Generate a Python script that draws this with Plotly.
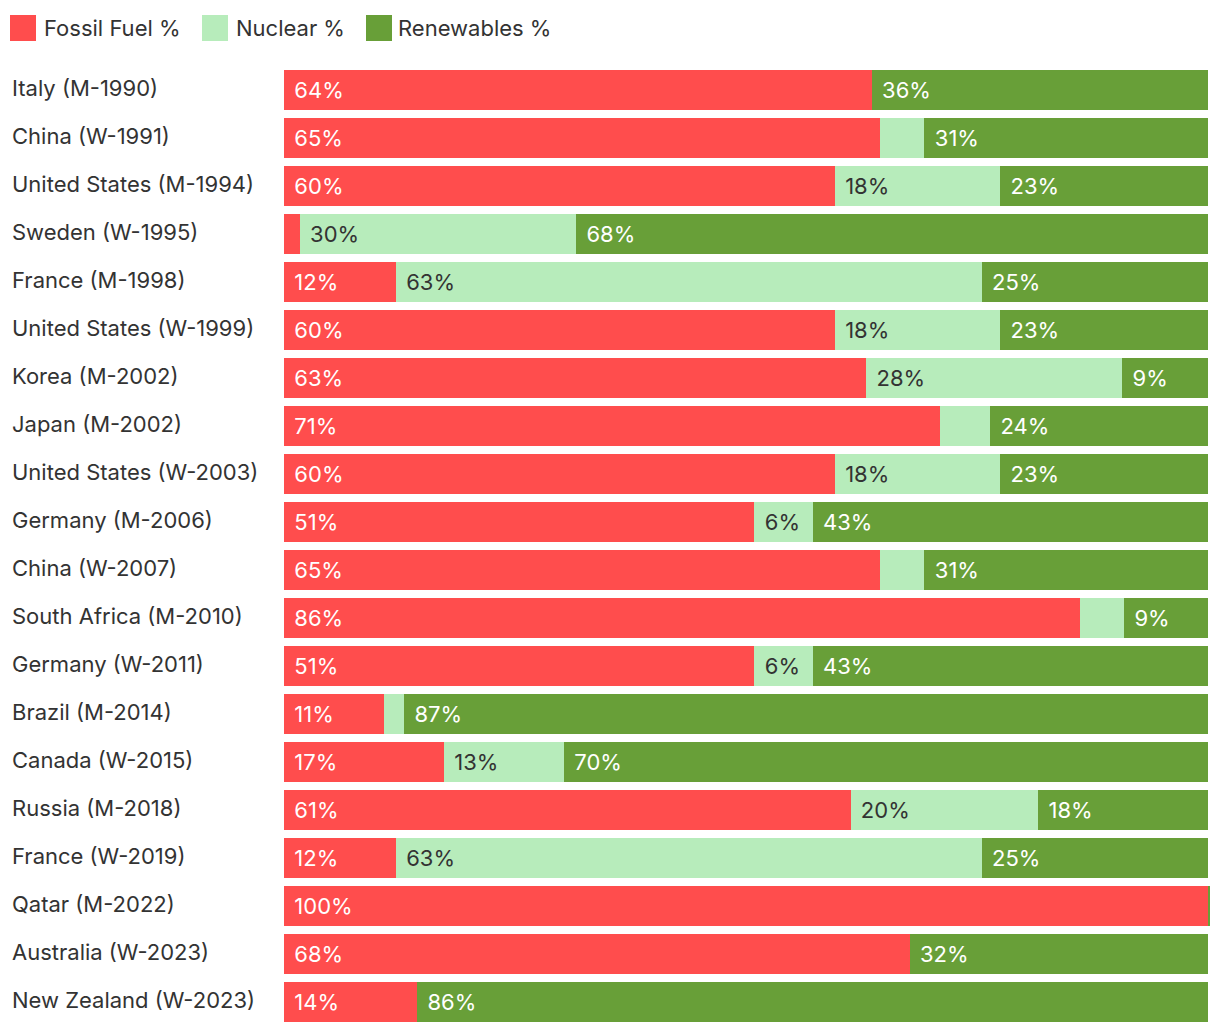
import plotly.graph_objects as go

categories = [
    "Italy (M-1990)", "China (W-1991)", "United States (M-1994)", "Sweden (W-1995)",
    "France (M-1998)", "United States (W-1999)", "Korea (M-2002)", "Japan (M-2002)",
    "United States (W-2003)", "Germany (M-2006)", "China (W-2007)", "South Africa (M-2010)",
    "Germany (W-2011)", "Brazil (M-2014)", "Canada (W-2015)", "Russia (M-2018)",
    "France (W-2019)", "Qatar (M-2022)", "Australia (W-2023)", "New Zealand (W-2023)",
]
fossil = [63.6, 64.5, 59.6, 1.7, 12.1, 59.6, 63.0, 71.0, 59.6, 50.9,
          64.5, 86.1, 50.9, 10.8, 17.3, 61.3, 12.1, 100.0, 67.7, 14.4]
nuclear = [0.0, 4.8, 17.9, 29.9, 63.4, 17.9, 27.7, 5.4, 17.9, 6.3,
           4.8, 4.8, 6.3, 2.2, 13.0, 20.3, 63.4, 0.0, 0.0, 0.0]
renewables = [36.4, 30.7, 22.5, 68.4, 24.5, 22.5, 9.3, 23.6, 22.5, 42.8,
              30.7, 9.1, 42.8, 87.0, 69.7, 18.4, 24.5, 0.2, 32.3, 85.6]

series_names = ["Fossil Fuel %", "Nuclear %", "Renewables %"]
series_colors = ["#ff4d4d", "#b7ecbb", "#689f38"]
text_colors = ["#ffffff", "#333333", "#ffffff"]

FONT = "Inter, Roboto, sans-serif"
FS = 22
OFF = 8  # page body offset
W, H = 1212, 1024
ML, MR, MT, MB = 284 - OFF, 10, 66 - OFF, 6
PW, PH = W - ML - MR, H - MT - MB


def label(v):
    return "\u2004" + str(int(round(v + 0.5001 - 0.0001, 4))) + "%" if v >= 6 else ""


fig = go.Figure()
for name, vals, col, tcol in zip(series_names, [fossil, nuclear, renewables], series_colors, text_colors):
    fig.add_trace(go.Bar(
        y=categories, x=vals, name=name, orientation="h",
        marker=dict(color=col, line=dict(width=0)),
        text=[label(v) for v in vals],
        textposition="inside", insidetextanchor="start",
        textfont=dict(family=FONT, size=FS, color=tcol),
        textangle=0, cliponaxis=False, showlegend=False,
    ))

annotations = []
for c in categories:
    annotations.append(dict(
        xref="paper", yref="y", x=0, y=c, xanchor="left", yanchor="middle",
        xshift=-(ML - (10 - OFF)), yshift=2, text=c, showarrow=False,
        font=dict(family=FONT, size=FS, color="#333333"),
    ))


def px_x(p):
    return (p - OFF - ML) / PW


def px_y(p):
    return (H - MB - (p - OFF)) / PH


shapes = []
leg_sq = [10, 202, 366]
leg_tx = [42, 234, 396]
for name, col, sx, tx in zip(series_names, series_colors, leg_sq, leg_tx):
    shapes.append(dict(type="rect", xref="paper", yref="paper",
                       x0=px_x(sx), x1=px_x(sx + 26), y0=px_y(41), y1=px_y(15),
                       fillcolor=col, line=dict(width=0)))
    annotations.append(dict(xref="paper", yref="paper", x=px_x(tx), y=px_y(28),
                            xanchor="left", yanchor="middle", text=name, showarrow=False,
                            font=dict(family=FONT, size=FS, color="#333333")))

fig.update_layout(
    width=W, height=H,
    margin=dict(l=ML, r=MR, t=MT, b=MB),
    barmode="stack", bargap=8 / 48,
    paper_bgcolor="white", plot_bgcolor="white",
    xaxis=dict(range=[0, 100.2], showgrid=False, zeroline=False, showticklabels=False, fixedrange=True),
    yaxis=dict(autorange="reversed", showgrid=False, zeroline=False, showticklabels=False, fixedrange=True),
    annotations=annotations, shapes=shapes,
    uniformtext=dict(minsize=FS, mode="show"),
    font=dict(family=FONT),
)

fig.write_html("out.html")
